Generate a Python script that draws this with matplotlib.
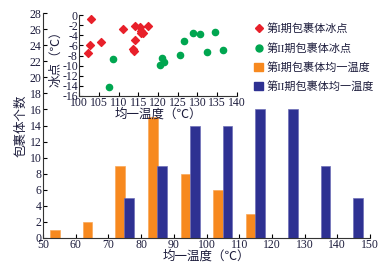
from matplotlib import pyplot as plt
from matplotlib.lines import Line2D
from matplotlib.patches import Patch

plt.rcParams['font.family'] = ['Liberation Serif', 'Noto Sans CJK SC', 'DejaVu Sans']
plt.rcParams['axes.unicode_minus'] = False

# histogram data (counts per 10 degree bin)
bins = [50, 60, 70, 80, 90, 100, 110, 120, 130, 140]
stage1_count = [1, 2, 9, 15, 8, 6, 3, 0, 0, 0]
stage2_count = [0, 0, 5, 9, 14, 14, 16, 16, 9, 5]

# freezing point vs homogenisation temperature
s1_temp = [102.9, 102.7, 102.1, 105.5, 111.0, 114.2, 115.4, 115.8, 116.1, 115.6, 117.5, 114.2, 113.7, 113.9]
s1_ice = [-0.8, -5.9, -7.6, -5.4, -2.8, -2.1, -2.4, -3.2, -3.5, -3.5, -2.2, -4.9, -6.7, -7.1]
s2_temp = [108.6, 107.6, 120.5, 121.1, 121.6, 125.6, 126.6, 128.8, 130.7, 134.6, 132.4, 136.4]
s2_ice = [-8.7, -14.3, -9.9, -8.4, -9.3, -7.9, -5.2, -3.6, -3.7, -3.4, -7.3, -6.9]

red = '#e8202a'
green = '#00a650'
orange = '#f7891f'
blue = '#2e3192'
txt = '#1c1c3c'

fig = plt.figure(figsize=(3.92, 2.64), dpi=100)
ax = fig.add_axes([43/392, 26/264, 327/392, 225/264])
x1 = [b + 3.6 for b in bins]
x2 = [b + 6.4 for b in bins]
ax.bar(x1, stage1_count, width=3, color=orange, edgecolor='#f9a95a', linewidth=0.5)
ax.bar(x2, stage2_count, width=3, color=blue, edgecolor='#6e70b8', linewidth=0.5)
ax.set_xlim(50, 150)
ax.set_ylim(0, 28)
ax.set_xticks(range(50, 151, 10))
ax.set_yticks(range(0, 29, 2))
for s in ['top', 'right']:
    ax.spines[s].set_visible(False)
for s in ['left', 'bottom']:
    ax.spines[s].set_color('#333333')
    ax.spines[s].set_linewidth(0.8)
ax.tick_params(direction='in', length=3, width=0.8, labelsize=8.5, labelcolor=txt, pad=1)
ax.set_xlabel('均一温度（℃）', fontsize=9, color=txt, labelpad=-1)
ax.set_ylabel('包裹体个数', fontsize=9, color=txt, labelpad=2)

ins = fig.add_axes([79.3/392, 168/264, 157.4/392, 81/264])
ins.patch.set_alpha(0)
ins.scatter(s1_temp, s1_ice, marker='D', s=16, color=red, zorder=3)
ins.scatter(s2_temp, s2_ice, marker='o', s=20, color=green, zorder=3)
ins.set_xlim(100, 140)
ins.set_ylim(-16, 0)
ins.set_xticks(range(100, 141, 5))
ins.set_yticks(range(-16, 1, 2))
for s in ['top', 'right']:
    ins.spines[s].set_visible(False)
for s in ['left', 'bottom']:
    ins.spines[s].set_color('#333333')
    ins.spines[s].set_linewidth(0.8)
ins.tick_params(direction='in', length=3, width=0.8, labelsize=8.5, labelcolor=txt, pad=1)
ins.set_xlabel('均一温度（℃）', fontsize=9, color=txt, labelpad=-1)
ins.set_ylabel('冰点（℃）', fontsize=9, color=txt, labelpad=0)

handles = [
    Line2D([], [], marker='D', color=red, linestyle='', markersize=4),
    Line2D([], [], marker='o', color=green, linestyle='', markersize=5),
    Patch(color=orange),
    Patch(color=blue),
]
labels = ['第I期包裹体冰点', '第II期包裹体冰点', '第I期包裹体均一温度', '第II期包裹体均一温度']
fig.legend(handles, labels, loc='upper left', bbox_to_anchor=(250/392, 1 - 19/264),
           frameon=False, fontsize=8, labelcolor=txt, handlelength=0.8, handletextpad=0.3,
           labelspacing=0.75, borderaxespad=0)

fig.savefig('out.png', dpi=100)
